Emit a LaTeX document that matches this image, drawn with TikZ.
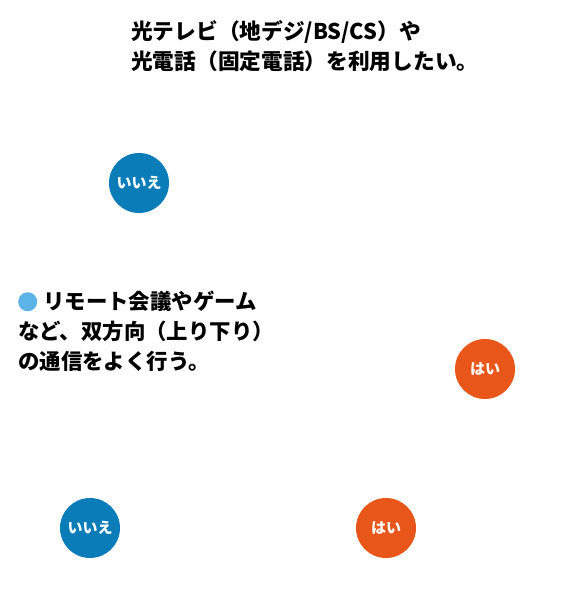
\documentclass[tikz,border=0pt]{standalone}
\usepackage{fontspec}
\setmainfont{Noto Sans CJK JP}[BoldFont={Noto Sans CJK JP Black}]
\usepackage{xcolor}
\definecolor{noblue}{HTML}{0A7DB8}
\definecolor{yesorange}{HTML}{E8561A}
\definecolor{dotblue}{HTML}{5BB4E5}
\newcommand{\bluedot}{\tikz[baseline={(0,-8pt)}]\fill[dotblue] (0,0) circle (9.5pt);}
\begin{document}
\begin{tikzpicture}[x=1pt,y=1pt,
  answer/.style={circle,minimum size=60pt,inner sep=0pt,text=white,font=\bfseries\fontsize{15}{17}\selectfont},
  noans/.style={answer,fill=noblue},
  yesans/.style={answer,fill=yesorange},
  qtext/.style={anchor=north west,inner sep=0pt,align=left,font=\bfseries\fontsize{21.7}{30}\selectfont}
]
\useasboundingbox[fill=white] (0,0) rectangle (570,-604);
\node[qtext] (q1) at (131,-20) {光テレビ（地デジ/BS/CS）や\\光電話（固定電話）を利用したい。};
\node[qtext,font=\bfseries\fontsize{21.4}{30}\selectfont] (q2) at (18,-291) {\bluedot\hspace{6pt}リモート会議やゲーム\\など、双方向（上り下り）\\の通信をよく行う。};
\node[noans] (n1) at (139,-183) {いいえ};
\node[yesans] (y1) at (485,-369) {はい};
\node[noans] (n2) at (90,-528) {いいえ};
\node[yesans] (y2) at (386,-528) {はい};
\end{tikzpicture}
\end{document}
